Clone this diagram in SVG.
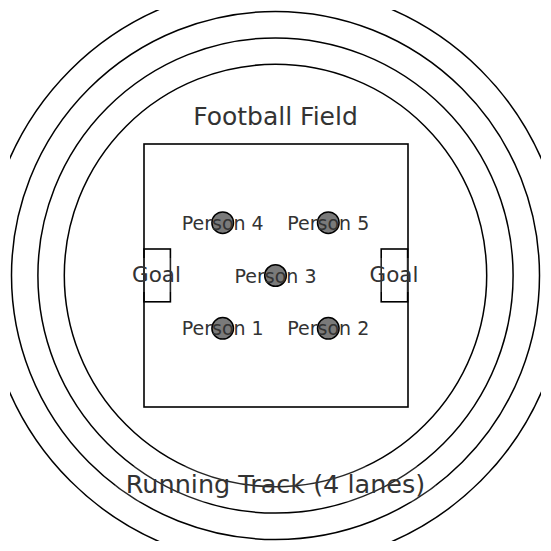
<svg xmlns="http://www.w3.org/2000/svg" width="551" height="551" viewBox="0 0 551 551">
<style>
.lane{fill:none;stroke:#000;stroke-width:1.5}
.field{fill:none;stroke:#000;stroke-width:1.6}
.person{fill:#7a7a7a;stroke:#000;stroke-width:1.5}
.t{font-family:"DejaVu Sans",sans-serif;fill:#333;text-anchor:middle}
.bg{fill:#fff;fill-opacity:0.15}
</style>
<defs>
<clipPath id="ax"><rect x="10" y="10" width="531" height="531"/></clipPath>
</defs>
<rect width="551" height="551" fill="#fff"/>
<g id="track" clip-path="url(#ax)">
<circle class="lane" cx="275.5" cy="275.5" r="211.2"/>
<circle class="lane" cx="275.5" cy="275.5" r="237.6"/>
<circle class="lane" cx="275.5" cy="275.5" r="264"/>
<circle class="lane" cx="275.5" cy="275.5" r="290.4"/>
</g>
<g id="field">
<rect class="field" x="144" y="144" width="264" height="263"/>
</g>
<g id="goal-left">
<rect class="field" x="144" y="249" width="26.4" height="52.8"/>
<rect class="bg" x="122" y="258" width="70" height="34"/>
<text class="t" x="156.5" y="282" font-size="21.5">Goal</text>
</g>
<g id="goal-right">
<rect class="field" x="381.2" y="249" width="26.4" height="52.8"/>
<rect class="bg" x="359" y="258" width="70" height="34"/>
<text class="t" x="394" y="282" font-size="21.5">Goal</text>
</g>
<g id="person1">
<circle class="person" cx="222.7" cy="328.3" r="10.8"/>
<text class="t" x="222.7" y="335" font-size="19">Person 1</text>
</g>
<g id="person2">
<circle class="person" cx="328.3" cy="328.3" r="10.8"/>
<text class="t" x="328.3" y="335" font-size="19">Person 2</text>
</g>
<g id="person3">
<circle class="person" cx="275.5" cy="275.5" r="10.8"/>
<text class="t" x="275.5" y="282.5" font-size="19">Person 3</text>
</g>
<g id="person4">
<circle class="person" cx="222.7" cy="222.7" r="10.8"/>
<text class="t" x="222.7" y="229.5" font-size="19">Person 4</text>
</g>
<g id="person5">
<circle class="person" cx="328.3" cy="222.7" r="10.8"/>
<text class="t" x="328.3" y="229.5" font-size="19">Person 5</text>
</g>
<g id="title-field">
<rect class="bg" x="180" y="98" width="191" height="36"/>
<text class="t" x="275.5" y="125" font-size="25">Football Field</text>
</g>
<g id="title-track">
<rect class="bg" x="115" y="466" width="321" height="36"/>
<text class="t" x="275.5" y="493" font-size="25.5">Running Track (4 lanes)</text>
</g>
</svg>
